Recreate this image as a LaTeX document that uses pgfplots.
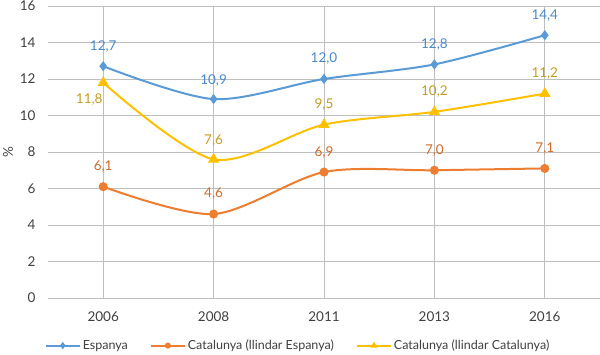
\documentclass[border=0pt]{standalone}
\usepackage{pgfplots}
\pgfplotsset{compat=1.18}
\usepackage{pgfplotstable}
\usepackage{fontspec}
\setmainfont{Lato}
\definecolor{cblue}{HTML}{5B9BD5}
\definecolor{corange}{HTML}{ED7D31}
\definecolor{cyellow}{HTML}{FFC000}
\definecolor{lblue}{HTML}{4A89C9}
\definecolor{lorange}{HTML}{CF6A2B}
\definecolor{lyellow}{HTML}{C49D22}
\definecolor{grid}{HTML}{D9D9D9}
\definecolor{txt}{HTML}{404040}

\pgfplotstableread{
x y lab dx dy
0 12.7 12,7 0 20
1 10.9 10,9 0 19
2 12.0 12,0 0 20
3 12.8 12,8 0 20
4 14.4 14,4 0 20
}\espanya
\pgfplotstableread{
x y lab dx dy
0 6.1 6,1 0 20
1 4.6 4,6 0 20
2 6.9 6,9 0 20
3 7.0 7,0 0 20
4 7.1 7,1 0 20
}\catesp
\pgfplotstableread{
x y lab dx dy
0 11.8 11,8 -14 -17
1 7.6 7,6 0 19
2 9.5 9,5 0 20
3 10.2 10,2 0 20
4 11.2 11,2 0 20
}\catcat

\begin{document}
\begin{tikzpicture}
\path[use as bounding box] (0,0) rectangle (600pt,355pt);
\begin{axis}[
  at={(48pt,57pt)}, anchor=south west,
  scale only axis, width=552pt, height=292pt,
  xmin=-0.5, xmax=4.5, ymin=0, ymax=16,
  xtick={0,1,2,3,4},
  xticklabels={2006,2008,2011,2013,2016},
  ytick={0,2,...,16},
  axis line style={draw=none},
  tick style={draw=none},
  ymajorgrids, grid style={grid, line width=0.8pt},
  tick label style={font=\fontsize{13.5}{15}\selectfont, text=txt},
  yticklabel style={xshift=-9pt},
  xticklabel style={yshift=-10pt},
  /pgf/number format/assume math mode=true,
  legend style={at={(axis description cs:0.453,-0.163)}, anchor=center, draw=none, font=\fontsize{12.5}{15}\selectfont, text=txt, legend columns=3, /tikz/every even column/.append style={column sep=20pt}},
  legend image code/.code={\draw[mark repeat=2,mark phase=2, mark size=2pt] plot coordinates {(0pt,0pt) (17pt,0pt) (34pt,0pt)};},
  nodes near coords,
  point meta=explicit symbolic,
  visualization depends on={\thisrow{dx}\as\dx},
  visualization depends on={\thisrow{dy}\as\dy},
  every node near coord/.append style={font=\fontsize{13.5}{15}\selectfont, anchor=center, xshift=\dx pt, yshift=\dy pt},
]
\addplot[cblue, line width=2pt, smooth, mark=diamond*, mark size=3.5pt, nodes near coords style={text=lblue}] table[x=x, y=y, meta=lab] {\espanya};
\addlegendentry{Espanya}
\addplot[corange, line width=2pt, smooth, mark=*, mark size=3.5pt, nodes near coords style={text=lorange}] table[x=x, y=y, meta=lab] {\catesp};
\addlegendentry{Catalunya (llindar Espanya)}
\addplot[cyellow, line width=2pt, smooth, mark=triangle*, mark size=4.5pt, nodes near coords style={text=lyellow}] table[x=x, y=y, meta=lab] {\catcat};
\addlegendentry{Catalunya (llindar Catalunya)}
\end{axis}
\node[rotate=90, font=\fontsize{13.5}{15}\selectfont, text=txt] at (8pt,203pt) {\%};
\end{tikzpicture}
\end{document}
